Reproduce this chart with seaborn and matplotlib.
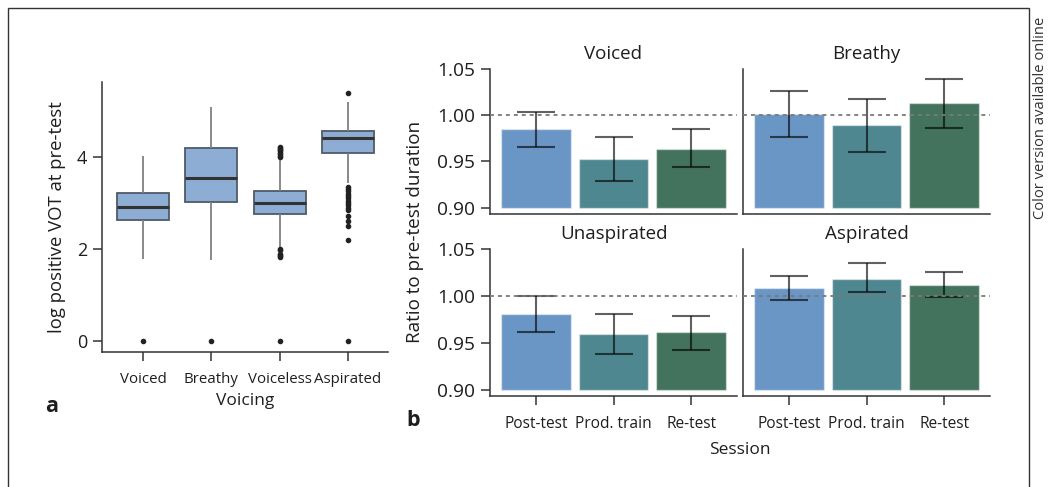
import numpy as np
import pandas as pd
import matplotlib
matplotlib.use("Agg")
import matplotlib.pyplot as plt
from matplotlib.patches import Rectangle
import seaborn as sns

# ---------------- data: panel a (box summaries) -------------
voicing = ["Voiced", "Breathy", "Voiceless", "Aspirated"]
box_q1 = [2.64, 3.02, 2.76, 4.09]
box_median = [2.91, 3.54, 2.99, 4.42]
box_q3 = [3.22, 4.20, 3.25, 4.57]
whisker_lo = [1.79, 1.76, 2.03, 3.43]
whisker_hi = [4.02, 5.09, 3.97, 5.20]
fliers_voiced = [0.0]
fliers_breathy = [0.0]
fliers_voiceless = [0.0, 1.83, 1.85, 1.87, 1.90, 1.97, 2.00,
                    4.00, 4.03, 4.06, 4.09, 4.12, 4.15, 4.18, 4.20, 4.22]
fliers_aspirated = [0.0, 2.20, 2.50, 2.60, 2.72, 2.85, 2.90, 2.95, 3.00, 3.05,
                    3.10, 3.15, 3.20, 3.25, 3.30, 3.35, 5.39]
fliers = [fliers_voiced, fliers_breathy, fliers_voiceless, fliers_aspirated]

# ---------------- data: panel b -------------------------------------------------
sessions = ["Post-test", "Prod. train", "Re-test"]
facets = ["Voiced", "Breathy", "Unaspirated", "Aspirated"]
voiced_mean = [0.985, 0.953, 0.964]
voiced_lo = [0.966, 0.929, 0.944]
voiced_hi = [1.004, 0.977, 0.985]
breathy_mean = [1.001, 0.989, 1.013]
breathy_lo = [0.977, 0.960, 0.986]
breathy_hi = [1.026, 1.018, 1.039]
unasp_mean = [0.981, 0.959, 0.961]
unasp_lo = [0.962, 0.938, 0.942]
unasp_hi = [1.000, 0.981, 0.979]
asp_mean = [1.008, 1.018, 1.012]
asp_lo = [0.996, 1.004, 0.999]
asp_hi = [1.021, 1.035, 1.026]

means = [voiced_mean, breathy_mean, unasp_mean, asp_mean]
los = [voiced_lo, breathy_lo, unasp_lo, asp_lo]
his = [voiced_hi, breathy_hi, unasp_hi, asp_hi]

# ---------------- build tables ----------------------------------------------------
BLOCK = 40
rows = []
for i, v in enumerate(voicing):
    vals = [whisker_lo[i]] + [box_q1[i]] * BLOCK + [box_median[i]] * BLOCK + \
           [box_q3[i]] * BLOCK + [whisker_hi[i]] + fliers[i]
    for x in vals:
        rows.append((v, x))
df_a = pd.DataFrame(rows, columns=["Voicing", "logVOT"])

rows = []
for f, m in zip(facets, means):
    for s, val in zip(sessions, m):
        rows.append((f, s, val))
df_b = pd.DataFrame(rows, columns=["facet", "Session", "ratio"])

# ---------------- style -----------------------------------------------------------
sns.set_theme(style="ticks")
plt.rcParams["font.family"] = ["Open Sans", "DejaVu Sans"]
plt.rcParams["axes.edgecolor"] = "#333333"
plt.rcParams["axes.linewidth"] = 1.1
plt.rcParams["xtick.color"] = "#333333"
plt.rcParams["ytick.color"] = "#333333"
plt.rcParams["text.color"] = "#1e1e1e"
plt.rcParams["axes.labelcolor"] = "#1e1e1e"
plt.rcParams["xtick.labelcolor"] = "#1e1e1e"
plt.rcParams["ytick.labelcolor"] = "#1e1e1e"

W, H = 1051, 487
fig = plt.figure(figsize=(W / 100, H / 100), dpi=100)

def fx(px):
    return px / W

def fy(py):
    return 1 - py / H

# ---------------- panel a --------------------------------------------------------
ax_a = fig.add_axes([fx(102), fy(352), fx(388) - fx(102), fy(82) - fy(352)])
sns.boxplot(data=df_a, x="Voicing", y="logVOT", order=voicing, color="#8eadd4",
            width=0.76, linecolor="#4f5b68", linewidth=1.3, showcaps=False,
            whiskerprops=dict(color="#808080", linewidth=1.3),
            medianprops=dict(color="#333333", linewidth=2.2),
            flierprops=dict(marker="o", markersize=3.0, markerfacecolor="#222222",
                            markeredgecolor="#222222"),
            saturation=1, ax=ax_a)
ax_a.set_xlim(-0.6, 3.585)
ax_a.set_ylim(-0.24, 5.63)
ax_a.set_yticks([0, 2, 4])
ax_a.set_xlabel("Voicing", fontsize=12.5, labelpad=4)
ax_a.set_ylabel("log positive VOT at pre-test", fontsize=13.3, labelpad=8)
ax_a.tick_params(axis="both", length=6.5, width=1.1)
ax_a.tick_params(axis="x", labelsize=10.8, pad=8)
ax_a.tick_params(axis="y", labelsize=13, pad=4)
sns.despine(ax=ax_a)

# ---------------- panel b --------------------------------------------------------
bar_colors = ["#6a96c6", "#4f8790", "#44735d"]
col_x = [(490, 737), (743, 990)]
row_y = [(69, 214), (249, 396)]
for k, f in enumerate(facets):
    r, c = divmod(k, 2)
    x0, x1 = col_x[c]
    y0, y1 = row_y[r]
    ax = fig.add_axes([fx(x0), fy(y1), fx(x1) - fx(x0), fy(y0) - fy(y1)])
    sub = df_b[df_b["facet"] == f]
    sns.barplot(data=sub, x="Session", y="ratio", hue="Session", order=sessions,
                hue_order=sessions, palette=bar_colors, errorbar=None, width=0.9,
                saturation=1, edgecolor=(1, 1, 1, 0.45), linewidth=1.0,
                legend=False, ax=ax)
    # bars start at 0.90
    for p in ax.patches:
        top = p.get_y() + p.get_height()
        p.set_y(0.9)
        p.set_height(top - 0.9)
    m = np.array(means[k])
    lo = np.array(los[k])
    hi = np.array(his[k])
    ax.errorbar(np.arange(len(sessions)), m, yerr=[m - lo, hi - m], fmt="none",
                ecolor=(0, 0, 0, 0.62), elinewidth=1.5, capsize=14, capthick=1.5,
                zorder=4)
    ax.axhline(1.0, color="#7a7a7a", linestyle=(0, (2.2, 2.2)), linewidth=1.3,
               zorder=5)
    ax.set_xlim(-0.59, 2.59)
    ax.set_ylim(0.8932, 1.05)
    ax.set_yticks([0.90, 0.95, 1.00, 1.05])
    ax.set_title(f, fontsize=13.5, pad=7.5)
    ax.set_xlabel("")
    ax.set_ylabel("")
    ax.tick_params(axis="both", length=6.5, width=1.1)
    ax.tick_params(axis="y", labelsize=13.8, pad=4)
    ax.tick_params(axis="x", labelsize=11.2, pad=8)
    if c == 0:
        ax.set_yticklabels(["0.90", "0.95", "1.00", "1.05"])
    else:
        ax.tick_params(axis="y", left=False, labelleft=False)
    if r == 0:
        ax.tick_params(axis="x", bottom=False, labelbottom=False)
    sns.despine(ax=ax)

fig.text(fx(415), fy(232), "Ratio to pre-test duration", rotation=90,
         ha="center", va="center", fontsize=13.6)
fig.text(fx(740), fy(450), "Session", ha="center", va="center", fontsize=12.5)

# panel letters
fig.text(fx(52), fy(406), "a", ha="center", va="center", fontsize=15.5,
         fontweight="bold")
fig.text(fx(413), fy(421), "b", ha="center", va="center", fontsize=15.5,
         fontweight="bold")

# frame and side note
fig.patches.append(Rectangle((fx(8), -0.2), fx(1029) - fx(8), fy(8) + 0.2,
                             transform=fig.transFigure, fill=False,
                             edgecolor="#333333", linewidth=1.0))
fig.text(fx(1041), fy(118), "Color version available online", rotation=90,
         ha="center", va="center", fontsize=10.6, color="#333333")

fig.savefig("out.png", dpi=100)
